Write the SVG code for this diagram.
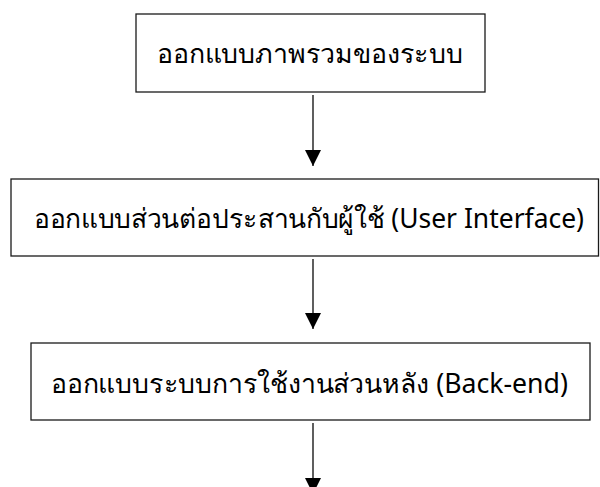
<svg xmlns="http://www.w3.org/2000/svg" width="600" height="487" viewBox="0 0 600 487">
  <style>
    .box { fill: #ffffff; stroke: #1a1a1a; stroke-width: 1.3; }
    .label { font-family: "Noto Sans", "Liberation Sans", sans-serif; font-size: 27px; fill: #000000; text-anchor: middle; }
    .link { stroke: #1a1a1a; stroke-width: 1.4; fill: none; }
  </style>
  <defs>
    <marker id="arrow" markerWidth="16" markerHeight="16" refX="16" refY="8" orient="auto" markerUnits="userSpaceOnUse">
      <path d="M0,0 L16,8 L0,16 Z" fill="#000000"/>
    </marker>
  </defs>
  <rect width="600" height="487" fill="#ffffff"/>

  <g id="node-overview">
    <rect class="box" x="136" y="14" width="349" height="78"/>
    <text class="label" x="310" y="63" textLength="306" lengthAdjust="spacingAndGlyphs">ออกแบบภาพรวมของระบบ</text>
  </g>

  <g id="node-ui">
    <rect class="box" x="11" y="179" width="587.5" height="77"/>
    <text class="label" x="309" y="228" textLength="550" lengthAdjust="spacingAndGlyphs">ออกแบบส่วนต่อประสานกับผู้ใช้ (User Interface)</text>
  </g>

  <g id="node-backend">
    <rect class="box" x="31" y="343" width="559" height="77"/>
    <text class="label" x="309.5" y="393" textLength="517" lengthAdjust="spacingAndGlyphs">ออกแบบระบบการใช้งานส่วนหลัง (Back-end)</text>
  </g>

  <g id="connectors">
    <line class="link" x1="313" y1="95" x2="313" y2="166" marker-end="url(#arrow)"/>
    <line class="link" x1="313" y1="259" x2="313" y2="329" marker-end="url(#arrow)"/>
    <line class="link" x1="313" y1="423" x2="313" y2="494" marker-end="url(#arrow)"/>
  </g>
</svg>
